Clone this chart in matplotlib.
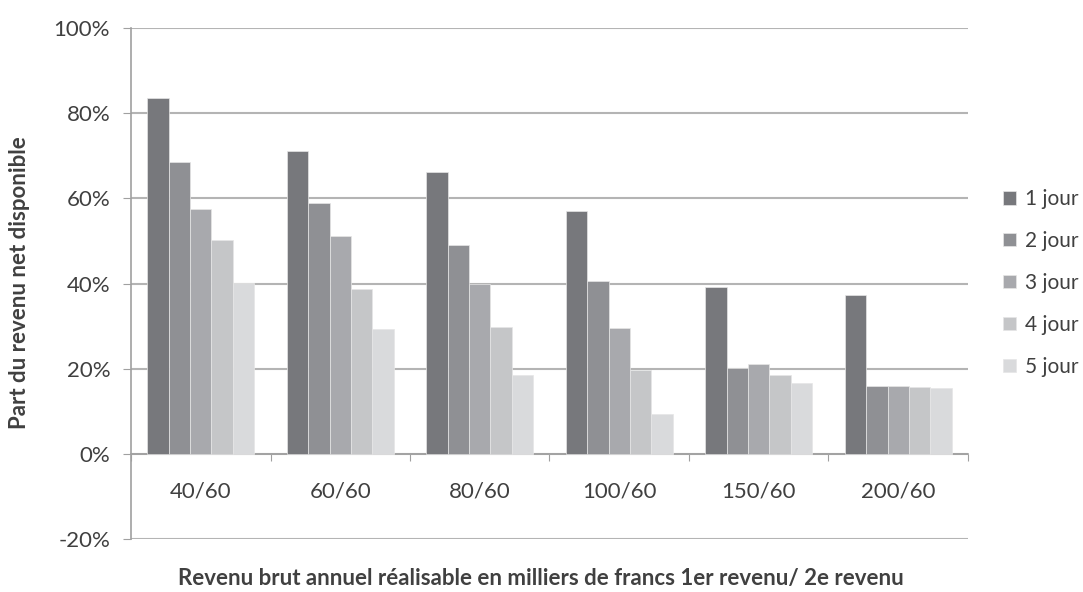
import matplotlib.pyplot as plt
import numpy as np

# data
categories = ['40/60', '60/60', '80/60', '100/60', '150/60', '200/60']
series_names = ['1 jour', '2 jour', '3 jour', '4 jour', '5 jour']
jour1 = [83.5, 71.1, 66.3, 57.1, 39.2, 37.2]
jour2 = [68.6, 59.0, 49.0, 40.7, 20.2, 16.0]
jour3 = [57.6, 51.1, 40.0, 29.5, 21.2, 16.0]
jour4 = [50.2, 38.7, 29.7, 19.7, 18.5, 15.7]
jour5 = [40.1, 29.2, 18.6, 9.4, 16.6, 15.4]
colors = ['#77787c', '#8f9094', '#a8a9ad', '#c5c6c8', '#d9dadc']

plt.rcParams['font.family'] = ['Lato', 'DejaVu Sans']
txt = '#404040'

fig = plt.figure(figsize=(10.83, 5.92), dpi=100)
ax = fig.add_axes([131/1083, 1-539/592, (968-131)/1083, (539-28)/592])

x = np.arange(len(categories)) + 0.5
w = 0.154
all_series = [jour1, jour2, jour3, jour4, jour5]
for i, vals in enumerate(all_series):
    ax.bar(x + (i-2)*w, vals, width=w, color=colors[i], label=series_names[i],
           edgecolor='#e6e6e6', linewidth=0.5, zorder=3)

ax.set_xlim(0, 6)
ax.set_ylim(-20, 100)
ax.set_yticks(range(-20, 101, 20))
ax.set_yticklabels([f'{v}%' for v in range(-20, 101, 20)], fontsize=16, color=txt)
ax.yaxis.grid(True, color='#b4b4b4', linewidth=1.5, zorder=0)
ax.set_axisbelow(True)

for s in ['top', 'right']:
    ax.spines[s].set_visible(False)
ax.spines['left'].set_color('#a0a0a0')
ax.spines['left'].set_linewidth(1.2)
ax.spines['bottom'].set_position(('data', 0))
ax.spines['bottom'].set_color('#a0a0a0')
ax.spines['bottom'].set_linewidth(1.2)

ax.tick_params(axis='y', direction='out', length=6, color='#a0a0a0', pad=9)
ax.set_xticks(range(0, 7))
ax.set_xticklabels([])
ax.tick_params(axis='x', which='major', direction='out', length=5, color='#a0a0a0')
ax.set_xticks(x, minor=True)
ax.set_xticklabels(categories, minor=True, fontsize=16, color=txt)
ax.tick_params(axis='x', which='minor', length=0, pad=20)

fig.text(20/1083, 1-283/592, 'Part du revenu net disponible', rotation=90,
         ha='center', va='center', fontsize=16, fontweight='bold', color=txt)
fig.text(541/1083, 1-579/592,
         'Revenu brut annuel réalisable en milliers de francs 1er revenu/ 2e revenu',
         ha='center', va='center', fontsize=16, fontweight='bold', color=txt)

fig.legend(loc='center left', bbox_to_anchor=(1003/1083, 1-283/592), frameon=False,
           borderpad=0, borderaxespad=0,
           fontsize=15, handlelength=0.6, handleheight=0.6, handletextpad=0.45,
           labelspacing=1.05, labelcolor=txt)

fig.savefig('out.png', dpi=100)
